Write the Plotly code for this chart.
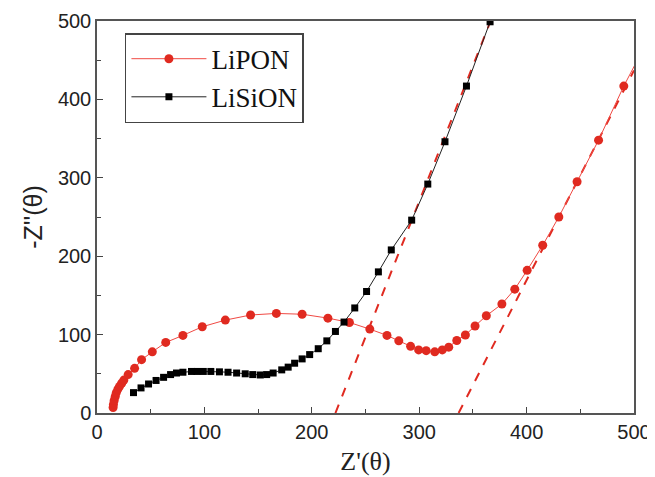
import plotly.graph_objects as go

# LiPON (red circles)
lipon_x = [15, 15.3, 16, 17, 18, 19.5, 21, 23, 25, 29, 35, 41.5, 51.5, 64, 80, 98, 119.5, 143, 167, 191,
           215, 235, 254, 270, 281, 292, 299.5, 306.5, 314.5, 321.5, 327.5, 335, 343, 352, 362.5, 377,
           389, 400.5, 415, 430, 447, 467, 490.5, 505]
lipon_y = [7, 11, 16, 21, 26, 30.5, 34, 38, 42, 49, 57, 68, 78, 90, 99, 110, 118.5, 125, 127, 126,
           121, 115.5, 107, 99, 92, 85, 80.5, 79.5, 78, 80.5, 84, 92.5, 99.5, 111, 124, 139,
           158, 182, 214, 250, 295, 348, 417, 455]

# LiSiON (black squares)
lision_x = [34, 41, 48, 55, 62, 68.5, 74, 80, 88, 93, 99, 106, 114, 122, 130, 138, 145, 152, 158, 164,
            172, 178, 184, 191, 198, 206, 214, 222, 230, 240, 251, 262, 274, 293, 308, 324, 344, 366]
lision_y = [26, 32, 37, 41.5, 45.5, 49, 51, 52, 53, 53, 53, 53, 52.5, 52, 51, 50, 49, 48.5, 49, 51,
            55, 58.5, 63.5, 69, 74.5, 82, 92, 104, 116, 134, 155, 180, 208, 246, 292, 346, 417, 499]

# Dashed fit lines
fit1_x = [222, 366.5]
fit1_y = [0, 500]
fit2_x = [336.7, 500]
fit2_y = [0, 437]

RED = "#e02a20"

fig = go.Figure()
fig.add_trace(go.Scatter(x=fit1_x, y=fit1_y, mode="lines", showlegend=False,
                         line=dict(color=RED, width=2, dash="dash")))
fig.add_trace(go.Scatter(x=fit2_x, y=fit2_y, mode="lines", showlegend=False,
                         line=dict(color=RED, width=2, dash="dash")))
fig.add_trace(go.Scatter(x=lipon_x, y=lipon_y, mode="lines+markers", name="LiPON",
                         line=dict(color="#f04a44", width=1),
                         marker=dict(symbol="circle", size=9, color=RED)))
fig.add_trace(go.Scatter(x=lision_x, y=lision_y, mode="lines+markers", name="LiSiON",
                         line=dict(color="#222222", width=1),
                         marker=dict(symbol="square", size=7, color="#000000")))

axis_common = dict(
    showgrid=False, zeroline=False, showline=True, linecolor="#555555", linewidth=1.5,
    mirror=True, ticks="inside", ticklen=6, tickwidth=1, tickcolor="#444444",
    tickfont=dict(family="Liberation Sans, Arial, sans-serif", size=20, color="#222222"),
    minor=dict(ticks="inside", ticklen=4, tickwidth=1, tickcolor="#444444", dtick=50),
    dtick=100, automargin=False,
)

# page body has an 8px default margin, so the figure is sized to fit the window
fig.update_layout(
    width=647, height=469,
    margin=dict(l=89, r=21, t=13, b=64),
    plot_bgcolor="white", paper_bgcolor="white",
    xaxis=dict(range=[0, 500], **axis_common,
               title=dict(text="Z'(θ)", standoff=10,
                          font=dict(family="Liberation Serif, Times New Roman, serif", size=26, color="#222222"))),
    yaxis=dict(range=[0, 500], **axis_common,
               title=dict(text="-Z''(θ)", standoff=8,
                          font=dict(family="Liberation Sans, Arial, sans-serif", size=25, color="#222222"))),
    legend=dict(x=0.052, y=0.969, xanchor="left", yanchor="top",
                bgcolor="white", bordercolor="#444444", borderwidth=1.5,
                font=dict(family="Liberation Serif, Times New Roman, serif", size=27, color="#111111"),
                tracegroupgap=0, itemwidth=75),
)

fig.write_html("out.html")
